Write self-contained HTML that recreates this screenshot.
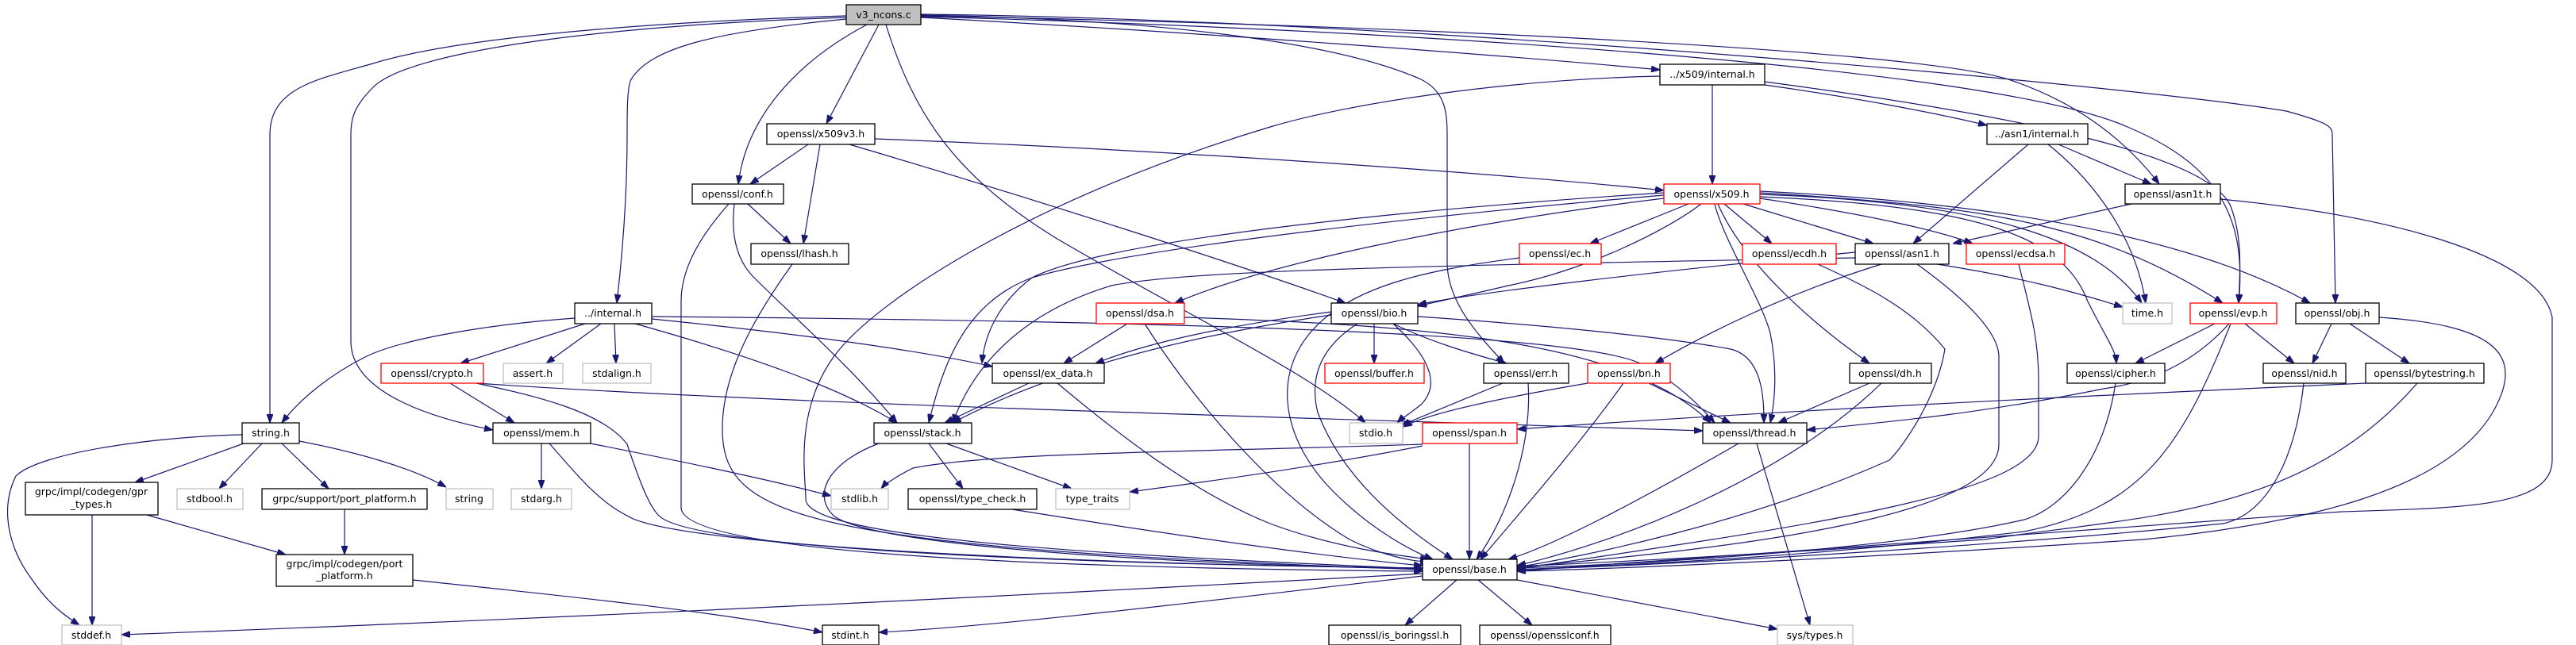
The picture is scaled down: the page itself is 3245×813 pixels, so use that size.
<!DOCTYPE html>
<html><head><meta charset="utf-8"><style>
html,body{margin:0;padding:0;background:#fff;}
svg{display:block;}
text{font-family:"DejaVu Sans","Liberation Sans",sans-serif;font-size:12.5px;fill:#000;text-anchor:middle;}
.e{fill:none;stroke:#191970;stroke-width:1.2;marker-end:url(#a);}
.n{fill:#fff;stroke:#000;stroke-width:1.3;}
.r{fill:#fff;stroke:#ff0000;stroke-width:1.3;}
.g{fill:#fff;stroke:#bfbfbf;stroke-width:1.3;}
.root{fill:#bfbfbf;stroke:#000;stroke-width:1.3;}
</style></head><body>
<svg width="3245" height="813" viewBox="0 0 3245 813" xmlns="http://www.w3.org/2000/svg">
<defs><marker id="a" markerUnits="userSpaceOnUse" markerWidth="11" markerHeight="8" refX="11" refY="4" orient="auto"><path d="M0,0 L11,4 L0,8 z" fill="#191970" stroke="#191970"/></marker></defs>
<g>
<path class="e" d="M1066,20 C900,25 600,40 470,80 C400,100 340,110 340,170 L340,533"/>
<path class="e" d="M1066,22 C800,30 520,60 470,110 C445,135 442,150 442,170 L442,430 C442,500 560,530 621,542"/>
<path class="e" d="M1066,24 C900,40 820,60 795,100 C790,110 790,140 790,170 C790,250 783,330 777,382"/>
<path class="e" d="M1092,31 C1000,80 940,150 930,232"/>
<path class="e" d="M1107,31 L1041,156"/>
<path class="e" d="M1116,31 C1150,140 1200,220 1330,300 C1500,400 1650,470 1720,533"/>
<path class="e" d="M1160,22 C1500,40 1900,70 2091,88"/>
<path class="e" d="M1160,19 C1500,25 1700,60 1790,100 C1820,115 1823,140 1823,170 L1823,330 C1823,380 1860,420 1895,458"/>
<path class="e" d="M1160,20 C1700,30 2400,60 2530,100 C2620,130 2680,180 2720,232"/>
<path class="e" d="M1160,21 C1700,35 2500,80 2680,160 C2800,210 2830,280 2820,382"/>
<path class="e" d="M1160,18 C1800,25 2700,110 2880,140 C2935,155 2938,160 2938,170 L2942,382"/>
<path class="e" d="M2157,107 L2157,232"/>
<path class="e" d="M2091,96 C1900,100 1700,130 1600,160 C1300,250 1100,380 1050,450 C1000,520 1015,600 1015,630 C1020,680 1400,700 1792,717"/>
<path class="e" d="M2223,107 C2350,125 2450,145 2503,158"/>
<path class="e" d="M2223,103 C2500,140 2780,190 2810,260 C2825,300 2822,340 2820,382"/>
<path class="e" d="M1018,182 L945,232"/>
<path class="e" d="M1033,182 L1012,307"/>
<path class="e" d="M1102,175 C1500,190 1900,220 2096,240"/>
<path class="e" d="M1070,182 C1300,250 1550,330 1695,382"/>
<path class="e" d="M942,257 L996,307"/>
<path class="e" d="M925,257 C920,300 930,330 950,350 C1000,400 1070,460 1130,533"/>
<path class="e" d="M918,257 C880,300 858,340 858,380 L858,640 C860,690 1200,715 1792,720"/>
<path class="e" d="M998,333 C950,400 910,470 910,540 C910,650 1000,690 1792,718"/>
<path class="e" d="M724,401 C600,410 500,430 460,450 C420,470 380,500 355,533"/>
<path class="e" d="M737,408 L580,458"/>
<path class="e" d="M757,408 L688,458"/>
<path class="e" d="M774,408 L776,458"/>
<path class="e" d="M821,402 C1000,420 1150,440 1250,462"/>
<path class="e" d="M800,408 C950,450 1060,490 1130,533"/>
<path class="e" d="M821,399 C1500,405 2000,420 2070,460 C2110,480 2140,510 2160,533"/>
<path class="e" d="M567,483 L648,533"/>
<path class="e" d="M600,483 C1000,510 1600,525 2145,543"/>
<path class="e" d="M600,483 C680,500 760,520 790,560 C810,620 820,640 830,650 C870,690 1300,710 1792,716"/>
<path class="e" d="M305,548 C200,550 50,570 20,600 C0,640 10,690 40,730 C60,760 80,775 100,788"/>
<path class="e" d="M307,559 L170,608"/>
<path class="e" d="M330,559 L276,616"/>
<path class="e" d="M355,559 L414,616"/>
<path class="e" d="M377,556 C450,570 520,590 562,614"/>
<path class="e" d="M682,559 L682,616"/>
<path class="e" d="M744,559 C850,580 950,600 1047,625"/>
<path class="e" d="M692,559 C720,590 750,630 790,650 C850,690 1400,712 1792,716"/>
<path class="e" d="M116,649 L116,788"/>
<path class="e" d="M185,649 L360,699"/>
<path class="e" d="M434,642 L434,699"/>
<path class="e" d="M520,731 C700,750 900,770 1036,797"/>
<path class="e" d="M1792,723 C1300,750 700,780 153,800"/>
<path class="e" d="M1792,726 C1500,760 1250,790 1107,797"/>
<path class="e" d="M1835,731 L1770,788"/>
<path class="e" d="M1862,731 L1930,788"/>
<path class="e" d="M1911,731 L2239,793"/>
<path class="e" d="M2127,257 L2003,307"/>
<path class="e" d="M2172,257 L2232,307"/>
<path class="e" d="M2196,257 L2360,307"/>
<path class="e" d="M2217,250 C2350,270 2440,290 2485,307"/>
<path class="e" d="M2143,257 C2100,290 2000,340 1900,360 C1850,372 1810,380 1786,386"/>
<path class="e" d="M2096,250 C1850,280 1600,330 1480,382"/>
<path class="e" d="M2096,246 C1700,280 1400,320 1300,350 C1220,380 1190,450 1170,533"/>
<path class="e" d="M2096,243 C1800,262 1400,300 1300,350 C1260,380 1240,420 1237,458"/>
<path class="e" d="M2160,257 C2170,300 2220,380 2230,420 C2240,470 2235,510 2230,533"/>
<path class="e" d="M2164,257 C2200,340 2300,420 2355,458"/>
<path class="e" d="M2217,248 C2500,260 2600,300 2630,380 C2655,430 2665,440 2666,458"/>
<path class="e" d="M2217,245 C2500,255 2640,300 2698,382"/>
<path class="e" d="M2217,243 C2500,260 2640,280 2800,382"/>
<path class="e" d="M2217,241 C2600,260 2800,320 2910,382"/>
<path class="e" d="M2337,318 C2100,340 1850,370 1786,384"/>
<path class="e" d="M2370,333 C2250,370 2150,420 2085,458"/>
<path class="e" d="M2337,325 C1800,335 1500,340 1400,360 C1300,390 1230,450 1200,533"/>
<path class="e" d="M2440,333 C2550,350 2620,370 2674,387"/>
<path class="e" d="M2415,333 C2480,380 2518,420 2518,450 L2518,560 C2518,650 2200,690 1911,715"/>
<path class="e" d="M2685,257 L2460,307"/>
<path class="e" d="M2797,251 C3000,270 3200,320 3215,400 L3215,580 C3215,640 3100,640 2950,645 C2700,660 2300,690 1911,720"/>
<path class="e" d="M2555,182 L2410,307"/>
<path class="e" d="M2593,182 L2710,232"/>
<path class="e" d="M2580,182 C2640,230 2690,300 2703,382"/>
<path class="e" d="M1914,325 C1800,340 1700,360 1650,420 C1600,480 1620,560 1680,620 C1730,670 1780,695 1805,705"/>
<path class="e" d="M2290,333 C2350,360 2410,390 2450,440 C2440,500 2400,560 2380,580 C2200,660 2000,700 1911,715"/>
<path class="e" d="M2543,333 C2560,400 2568,430 2568,480 L2568,550 C2568,620 2300,660 1911,717"/>
<path class="e" d="M1420,408 L1340,458"/>
<path class="e" d="M1492,400 C1800,410 2050,430 2155,533"/>
<path class="e" d="M1442,408 C1500,500 1600,620 1700,680 C1740,700 1780,708 1800,708"/>
<path class="e" d="M1731,408 L1731,458"/>
<path class="e" d="M1755,408 C1800,430 1850,445 1898,458"/>
<path class="e" d="M1755,408 C1790,440 1820,480 1790,510 C1775,522 1765,528 1760,533"/>
<path class="e" d="M1677,393 C1550,410 1450,430 1380,458"/>
<path class="e" d="M1677,397 C1450,430 1300,480 1200,533"/>
<path class="e" d="M1786,399 C1950,410 2100,425 2180,440 C2220,450 2222,500 2222,533"/>
<path class="e" d="M1710,408 C1660,440 1650,480 1660,520 C1690,600 1760,660 1830,705"/>
<path class="e" d="M1296,483 L1190,533"/>
<path class="e" d="M1332,483 C1400,540 1500,620 1600,660 C1680,690 1760,700 1800,705"/>
<path class="e" d="M1170,559 L1213,616"/>
<path class="e" d="M1192,559 L1350,616"/>
<path class="e" d="M1107,559 C1050,580 1020,620 1050,650 C1100,690 1500,712 1792,717"/>
<path class="e" d="M1275,642 C1450,670 1650,700 1792,713"/>
<path class="e" d="M1893,483 L1765,536"/>
<path class="e" d="M1925,483 C1930,560 1900,650 1860,705"/>
<path class="e" d="M2000,483 C1900,500 1800,520 1768,538"/>
<path class="e" d="M2077,483 L2180,533"/>
<path class="e" d="M2045,483 C1990,560 1920,640 1865,705"/>
<path class="e" d="M2355,483 L2240,533"/>
<path class="e" d="M2370,483 C2250,600 2050,680 1911,713"/>
<path class="e" d="M1792,560 C1500,570 1250,570 1150,590 C1130,600 1115,610 1110,616"/>
<path class="e" d="M1792,562 C1650,590 1500,610 1423,620"/>
<path class="e" d="M1851,559 L1851,705"/>
<path class="e" d="M2190,559 C2050,640 1950,690 1900,705"/>
<path class="e" d="M2213,559 L2280,788"/>
<path class="e" d="M2980,483 C2600,500 2200,520 1911,541"/>
<path class="e" d="M3045,483 C2900,650 2700,650 2500,680 C2200,700 2000,710 1911,714"/>
<path class="e" d="M2790,408 L2690,458"/>
<path class="e" d="M2828,408 L2890,458"/>
<path class="e" d="M2808,408 C2770,450 2720,480 2650,490 C2500,520 2400,530 2276,542"/>
<path class="e" d="M2810,408 C2750,560 2700,640 2550,670 C2300,700 2100,710 1911,718"/>
<path class="e" d="M2937,408 L2913,458"/>
<path class="e" d="M2960,408 L3035,458"/>
<path class="e" d="M2997,400 C3150,410 3180,450 3140,520 C3080,620 2900,660 2700,680 C2400,700 2100,715 1911,720"/>
<path class="e" d="M2665,483 C2650,580 2600,640 2550,655 C2400,690 2100,710 1911,716"/>
<path class="e" d="M2902,483 C2890,590 2850,650 2800,660 C2500,690 2100,712 1911,718"/>
</g>
<g>
<rect class="root" x="1066" y="6" width="94" height="25"/><text x="1113" y="23">v3_ncons.c</text>
<rect class="n" x="2091" y="81" width="132" height="26"/><text x="2157" y="98">../x509/internal.h</text>
<rect class="n" x="966" y="156" width="136" height="26"/><text x="1034" y="173">openssl/x509v3.h</text>
<rect class="n" x="2503" y="156" width="127" height="26"/><text x="2566" y="173">../asn1/internal.h</text>
<rect class="n" x="872" y="232" width="115" height="25"/><text x="929" y="249">openssl/conf.h</text>
<rect class="r" x="2096" y="232" width="121" height="25"/><text x="2156" y="249">openssl/x509.h</text>
<rect class="n" x="2677" y="232" width="120" height="25"/><text x="2737" y="249">openssl/asn1t.h</text>
<rect class="n" x="946" y="307" width="123" height="26"/><text x="1007" y="324">openssl/lhash.h</text>
<rect class="r" x="1914" y="307" width="103" height="26"/><text x="1965" y="324">openssl/ec.h</text>
<rect class="r" x="2195" y="307" width="118" height="26"/><text x="2254" y="324">openssl/ecdh.h</text>
<rect class="n" x="2337" y="307" width="118" height="26"/><text x="2396" y="324">openssl/asn1.h</text>
<rect class="r" x="2477" y="307" width="124" height="26"/><text x="2539" y="324">openssl/ecdsa.h</text>
<rect class="n" x="724" y="382" width="97" height="26"/><text x="772" y="399">../internal.h</text>
<rect class="r" x="1381" y="382" width="111" height="26"/><text x="1436" y="399">openssl/dsa.h</text>
<rect class="n" x="1677" y="382" width="109" height="26"/><text x="1731" y="399">openssl/bio.h</text>
<rect class="g" x="2674" y="382" width="62" height="26"/><text x="2705" y="399">time.h</text>
<rect class="r" x="2759" y="382" width="109" height="26"/><text x="2813" y="399">openssl/evp.h</text>
<rect class="n" x="2892" y="382" width="105" height="26"/><text x="2944" y="399">openssl/obj.h</text>
<rect class="r" x="480" y="458" width="129" height="25"/><text x="544" y="475">openssl/crypto.h</text>
<rect class="g" x="634" y="458" width="75" height="25"/><text x="671" y="475">assert.h</text>
<rect class="g" x="734" y="458" width="86" height="25"/><text x="777" y="475">stdalign.h</text>
<rect class="n" x="1250" y="458" width="141" height="25"/><text x="1320" y="475">openssl/ex_data.h</text>
<rect class="r" x="1669" y="458" width="125" height="25"/><text x="1731" y="475">openssl/buffer.h</text>
<rect class="n" x="1869" y="458" width="107" height="25"/><text x="1922" y="475">openssl/err.h</text>
<rect class="r" x="2000" y="458" width="104" height="25"/><text x="2052" y="475">openssl/bn.h</text>
<rect class="n" x="2330" y="458" width="103" height="25"/><text x="2381" y="475">openssl/dh.h</text>
<rect class="n" x="2604" y="458" width="123" height="25"/><text x="2665" y="475">openssl/cipher.h</text>
<rect class="n" x="2851" y="458" width="104" height="25"/><text x="2903" y="475">openssl/nid.h</text>
<rect class="n" x="2980" y="458" width="149" height="25"/><text x="3054" y="475">openssl/bytestring.h</text>
<rect class="n" x="305" y="533" width="72" height="26"/><text x="341" y="550">string.h</text>
<rect class="n" x="621" y="533" width="123" height="26"/><text x="682" y="550">openssl/mem.h</text>
<rect class="n" x="1101" y="533" width="123" height="26"/><text x="1162" y="550">openssl/stack.h</text>
<rect class="g" x="1700" y="533" width="67" height="26"/><text x="1733" y="550">stdio.h</text>
<rect class="r" x="1792" y="533" width="119" height="26"/><text x="1851" y="550">openssl/span.h</text>
<rect class="n" x="2145" y="533" width="131" height="26"/><text x="2210" y="550">openssl/thread.h</text>
<rect class="n" x="32" y="608" width="167" height="41"/><text x="115" y="624">grpc/impl/codegen/gpr</text><text x="115" y="640">_types.h</text>
<rect class="g" x="223" y="616" width="83" height="26"/><text x="264" y="633">stdbool.h</text>
<rect class="n" x="330" y="616" width="208" height="26"/><text x="434" y="633">grpc/support/port_platform.h</text>
<rect class="g" x="562" y="616" width="59" height="26"/><text x="591" y="633">string</text>
<rect class="g" x="644" y="616" width="76" height="26"/><text x="682" y="633">stdarg.h</text>
<rect class="g" x="1047" y="616" width="72" height="26"/><text x="1083" y="633">stdlib.h</text>
<rect class="n" x="1144" y="616" width="162" height="26"/><text x="1225" y="633">openssl/type_check.h</text>
<rect class="g" x="1330" y="616" width="93" height="26"/><text x="1376" y="633">type_traits</text>
<rect class="n" x="348" y="699" width="172" height="40"/><text x="434" y="715">grpc/impl/codegen/port</text><text x="434" y="730">_platform.h</text>
<rect class="n" x="1792" y="705" width="119" height="26"/><text x="1851" y="722">openssl/base.h</text>
<rect class="g" x="78" y="788" width="75" height="25"/><text x="115" y="805">stddef.h</text>
<rect class="n" x="1036" y="788" width="71" height="25"/><text x="1071" y="805">stdint.h</text>
<rect class="n" x="1674" y="788" width="166" height="25"/><text x="1757" y="805">openssl/is_boringssl.h</text>
<rect class="n" x="1864" y="788" width="165" height="25"/><text x="1946" y="805">openssl/opensslconf.h</text>
<rect class="g" x="2239" y="788" width="95" height="25"/><text x="2286" y="805">sys/types.h</text>
</g>
</svg>
</body></html>
